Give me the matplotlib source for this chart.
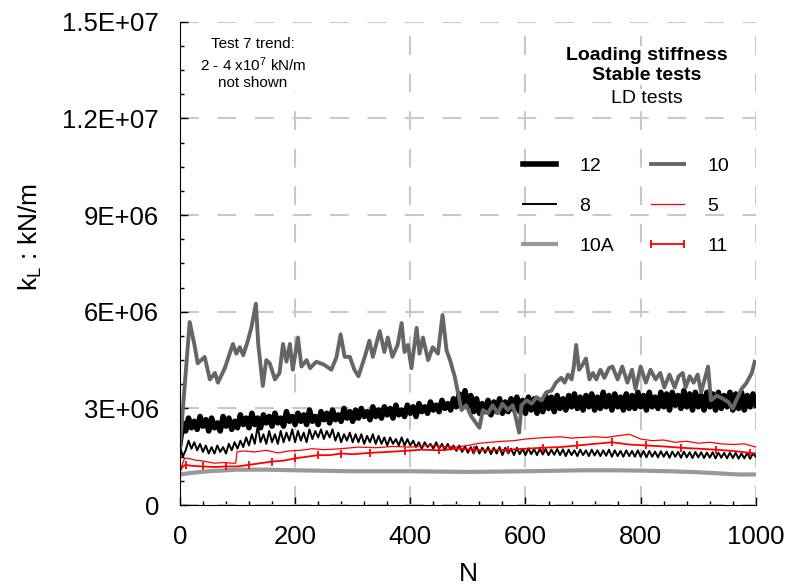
import numpy as np
import matplotlib
matplotlib.use('Agg')
import matplotlib.pyplot as plt
from matplotlib.ticker import AutoMinorLocator

plt.rcParams['font.family'] = ['Liberation Sans', 'DejaVu Sans']
plt.rcParams['mathtext.default'] = 'regular'

# ---- data (values in units of 1e6 kN/m) ----
# test 12 and test 8 read every 5 cycles
n_dense = np.arange(0, 1001, 5)

k12 = [1.9, 2.55, 2.3, 2.7, 2.4, 2.6, 2.35, 2.75, 2.45, 2.65,
       2.3, 2.7, 2.4, 2.55, 2.3, 2.75, 2.45, 2.7, 2.35, 2.6,
       2.4, 2.8, 2.5, 2.7, 2.4, 2.85, 2.5, 2.7, 2.4, 2.8,
       2.55, 2.75, 2.45, 2.85, 2.55, 2.7, 2.45, 2.9, 2.6, 2.75,
       2.5, 2.85, 2.6, 2.8, 2.5, 2.95, 2.6, 2.75, 2.5, 2.9,
       2.65, 2.85, 2.55, 2.95, 2.65, 2.8, 2.6, 3.0, 2.7, 2.9,
       2.6, 2.95, 2.7, 3.0, 2.75, 2.9, 2.65, 3.05, 2.75, 2.95,
       2.7, 3.05, 2.8, 3.0, 2.7, 3.1, 2.8, 2.95, 2.75, 3.1,
       2.85, 3.05, 2.75, 3.15, 2.9, 3.05, 2.85, 3.2, 2.95, 3.1,
       2.9, 3.25, 3.0, 3.15, 2.95, 3.3, 3.05, 3.45, 3.15, 3.55,
       3.05, 3.4, 2.9, 3.3, 2.85, 3.15, 2.9, 3.25, 2.8, 3.2,
       2.9, 3.3, 2.85, 3.2, 2.9, 3.3, 2.95, 3.35, 2.9, 3.25,
       2.85, 3.35, 2.95, 3.3, 2.85, 3.25, 2.9, 3.4, 3.0, 3.35,
       2.9, 3.4, 3.0, 3.3, 2.95, 3.4, 3.05, 3.45, 3.0, 3.35,
       2.95, 3.4, 3.05, 3.45, 2.95, 3.35, 3.0, 3.5, 3.05, 3.4,
       2.95, 3.45, 3.05, 3.35, 2.95, 3.45, 3.0, 3.4, 3.0, 3.5,
       3.05, 3.4, 2.95, 3.5, 3.05, 3.35, 3.0, 3.5, 3.05, 3.45,
       2.95, 3.5, 3.1, 3.4, 3.0, 3.55, 3.05, 3.45, 2.95, 3.5,
       3.05, 3.4, 2.95, 3.5, 3.05, 3.45, 2.95, 3.5, 3.0, 3.4,
       3.05, 3.5, 2.95, 3.45, 3.0, 3.5, 2.95, 3.4, 3.05, 3.45,
       3.1]

k8 = [1.85, 1.5, 1.7, 2.0, 1.75, 1.95, 1.7, 1.9, 1.65, 1.85,
      1.6, 1.8, 1.6, 1.85, 1.65, 1.8, 1.6, 1.9, 1.7, 1.95,
      1.75, 2.0, 1.8, 2.1, 1.85, 2.2, 1.9, 2.45, 1.95, 2.2,
      1.9, 2.3, 1.95, 2.2, 1.9, 2.3, 1.95, 2.25, 2.0, 2.35,
      1.95, 2.3, 2.0, 2.25, 1.95, 2.35, 2.05, 2.3, 2.1, 2.35,
      2.05, 2.3, 2.1, 2.35, 2.0, 2.25, 1.95, 2.2, 2.0, 2.25,
      1.95, 2.2, 1.95, 2.2, 1.9, 2.15, 1.95, 2.2, 1.9, 2.15,
      1.9, 2.1, 1.85, 2.1, 1.9, 2.05, 1.85, 2.1, 1.85, 2.05,
      1.85, 2.0, 1.8, 1.95, 1.75, 1.95, 1.8, 1.9, 1.75, 1.95,
      1.75, 1.9, 1.7, 1.9, 1.72, 1.85, 1.68, 1.85, 1.65, 1.82,
      1.62, 1.8, 1.6, 1.82, 1.6, 1.78, 1.62, 1.8, 1.58, 1.78,
      1.6, 1.8, 1.55, 1.78, 1.6, 1.75, 1.55, 1.78, 1.58, 1.75,
      1.55, 1.76, 1.58, 1.74, 1.55, 1.75, 1.57, 1.74, 1.55, 1.72,
      1.56, 1.74, 1.55, 1.73, 1.52, 1.72, 1.55, 1.7, 1.52, 1.72,
      1.55, 1.7, 1.52, 1.72, 1.54, 1.7, 1.52, 1.7, 1.53, 1.72,
      1.5, 1.7, 1.52, 1.68, 1.5, 1.7, 1.52, 1.68, 1.5, 1.7,
      1.5, 1.68, 1.48, 1.68, 1.5, 1.66, 1.48, 1.67, 1.5, 1.66,
      1.47, 1.66, 1.5, 1.65, 1.47, 1.66, 1.48, 1.64, 1.46, 1.65,
      1.48, 1.64, 1.46, 1.63, 1.47, 1.64, 1.45, 1.63, 1.47, 1.62,
      1.45, 1.63, 1.46, 1.62, 1.44, 1.6, 1.45, 1.62, 1.44, 1.6,
      1.5]

# test 10 (dark grey)
n10 = [0, 17, 25, 31, 43, 52, 61, 66, 78, 92, 98, 104, 110, 118, 124, 132,
       136, 144, 150, 156, 165, 173, 179, 185, 191, 196, 205, 211, 220, 226,
       237, 251, 263, 272, 279, 286, 295, 303, 310, 321, 329, 335, 347, 355,
       361, 369, 378, 385, 390, 396, 402, 411, 416, 422, 431, 439, 448, 456,
       463, 469, 477, 489, 497, 506, 514, 520, 526, 535, 543, 552, 560, 569,
       578, 584, 589, 593, 602, 611, 619, 628, 636, 645, 653, 662, 668, 674,
       680, 684, 688, 693, 699, 705, 711, 717, 723, 730, 737, 745, 751, 760,
       768, 777, 785, 791, 800, 809, 817, 826, 834, 841, 850, 859, 866, 873,
       878, 885, 892, 899, 905, 911, 917, 922, 932, 943, 952, 960, 966, 975,
       984, 993, 998]
k10 = [1.8, 5.68, 5.0, 4.4, 4.6, 3.9, 4.1, 3.8, 4.25, 5.0, 4.7, 4.9, 4.65,
       5.1, 5.5, 6.25, 5.0, 3.7, 4.5, 4.4, 3.9, 4.1, 5.0, 4.45, 5.0, 4.2,
       5.2, 4.3, 4.5, 4.25, 4.45, 4.35, 4.2, 4.6, 5.3, 4.6, 4.6, 4.2, 4.0,
       4.6, 5.1, 4.6, 5.4, 4.75, 5.2, 4.6, 4.97, 5.65, 4.75, 4.97, 4.25, 5.5,
       4.7, 5.2, 4.5, 4.9, 4.7, 5.9, 4.8, 4.5, 4.0, 2.95, 3.1, 2.75, 2.55,
       2.4, 2.95, 2.85, 3.1, 2.85, 3.15, 2.95, 3.1, 2.65, 2.25, 3.1, 3.25,
       3.15, 3.35, 3.25, 3.5, 3.55, 3.8, 3.95, 3.8, 4.05, 3.9, 4.3, 4.97,
       4.2, 4.35, 4.55, 3.9, 4.1, 3.9, 4.2, 3.95, 4.25, 4.3, 3.9, 4.3, 3.8,
       4.2, 3.6, 4.3, 3.8, 4.2, 3.9, 4.1, 3.65, 4.05, 3.65, 4.0, 4.1, 3.65,
       4.0, 3.8, 4.05, 3.5, 3.9, 4.3, 3.25, 3.4, 3.3, 3.2, 3.0, 3.25, 3.6,
       3.8, 4.1, 4.45]

# test 10A (light grey)
n10a = [0, 20, 50, 100, 150, 200, 300, 400, 500, 600, 700, 750, 800, 850,
        900, 950, 970, 1000]
k10a = [0.95, 1.0, 1.05, 1.1, 1.1, 1.08, 1.05, 1.05, 1.03, 1.05, 1.08, 1.08,
        1.07, 1.05, 1.02, 0.97, 0.95, 0.95]

# test 5 (red, thin)
n5 = [0, 3, 8, 15, 25, 35, 45, 60, 75, 90, 97, 99, 110, 130, 150, 170, 190,
      210, 230, 250, 280, 310, 340, 370, 400, 430, 460, 480, 500, 520, 540,
      560, 580, 600, 620, 640, 660, 680, 700, 720, 740, 760, 780, 800, 820,
      840, 860, 880, 900, 920, 940, 960, 980, 1000]
k5 = [1.0, 1.2, 1.45, 1.45, 1.4, 1.38, 1.35, 1.3, 1.32, 1.3, 1.3, 1.65, 1.68,
      1.65, 1.7, 1.62, 1.68, 1.7, 1.75, 1.72, 1.75, 1.8, 1.78, 1.82, 1.8,
      1.85, 1.82, 1.8, 1.85, 1.92, 1.95, 1.98, 2.0, 2.05, 2.08, 2.1, 2.12,
      2.08, 2.1, 2.12, 2.1, 2.15, 2.2, 2.05, 2.0, 2.02, 1.95, 1.98, 1.92,
      1.95, 1.9, 1.88, 1.9, 1.8]

# test 11 (red, with ticks)
n11 = [0, 5, 10, 20, 40, 60, 80, 100, 120, 140, 160, 180, 200, 220, 240, 260,
       280, 300, 330, 360, 390, 420, 450, 480, 510, 540, 570, 600, 630, 660,
       690, 720, 750, 780, 810, 840, 870, 900, 930, 960, 990, 1000]
k11 = [1.05, 1.2, 1.25, 1.22, 1.2, 1.18, 1.2, 1.2, 1.25, 1.3, 1.35, 1.38,
       1.45, 1.5, 1.55, 1.55, 1.6, 1.58, 1.62, 1.65, 1.68, 1.72, 1.7, 1.75,
       1.72, 1.7, 1.72, 1.75, 1.78, 1.8, 1.85, 1.9, 1.95, 1.88, 1.85, 1.82,
       1.78, 1.75, 1.72, 1.68, 1.62, 1.6]

yticks = [0, 3e6, 6e6, 9e6, 1.2e7, 1.5e7]
ylabels = ['0', '3E+06', '6E+06', '9E+06', '1.2E+07', '1.5E+07']
xticks = [0, 200, 400, 600, 800, 1000]

# ---- plot ----
fig = plt.figure(figsize=(7.89, 5.88), dpi=100)
ax = fig.add_axes([0.228, 0.141, 0.730, 0.822])

sc = 1e6
ax.plot(n_dense, np.array(k12) * sc, color='black', lw=4.0, label='12')
ax.plot(n_dense, np.array(k8) * sc, color='black', lw=1.4, label='8')
ax.plot(n10a, np.array(k10a) * sc, color='#999999', lw=3.0, label='10A')
ax.plot(n10, np.array(k10) * sc, color='#666666', lw=2.8, label='10')
ax.plot(n5, np.array(k5) * sc, color='red', lw=0.9, label='5')
ax.plot(n11, np.array(k11) * sc, color='red', lw=1.3, marker='|',
        markersize=6, markeredgewidth=1.3, markevery=2, label='11')

ax.set_xlim(0, 1000)
ax.set_ylim(0, 1.5e7)
ax.set_xticks(xticks)
ax.set_yticks(yticks)
ax.set_yticklabels(ylabels)
ax.xaxis.set_minor_locator(AutoMinorLocator(5))
ax.yaxis.set_minor_locator(AutoMinorLocator(4))
ax.tick_params(which='both', direction='in', labelsize=18.5)
ax.tick_params(which='major', length=6, width=1)
ax.tick_params(which='minor', length=3, width=1)
ax.tick_params(axis='x', pad=14)
ax.tick_params(axis='y', pad=15)

for s in ['top', 'right']:
    ax.spines[s].set_visible(False)

ax.grid(True, which='major', color='#c8c8c8', lw=1.5, linestyle=(0, (9, 9)))
ax.set_axisbelow(True)

ax.set_xlabel('N', fontsize=19)
ax.set_ylabel('k$_L$ : kN/m', fontsize=19)
ax.xaxis.set_label_coords(0.5, -0.118)
ax.yaxis.set_label_coords(-0.236, 0.555)

ax.text(0.127, 0.913, 'Test 7 trend:\n2 - 4 x10$^7$ kN/m\nnot shown',
        transform=ax.transAxes, ha='center', va='center', fontsize=11,
        linespacing=1.25,
        bbox=dict(facecolor='white', edgecolor='none', pad=1))

bb = dict(facecolor='white', edgecolor='none', pad=0.5)
ax.text(0.811, 0.930, 'Loading stiffness', transform=ax.transAxes,
        ha='center', va='center', fontsize=14, fontweight='bold', bbox=bb)
ax.text(0.811, 0.888, 'Stable tests', transform=ax.transAxes,
        ha='center', va='center', fontsize=14, fontweight='bold', bbox=bb)
ax.text(0.811, 0.841, 'LD tests', transform=ax.transAxes,
        ha='center', va='center', fontsize=14, bbox=bb)

ax.legend(ncol=2, loc='center', bbox_to_anchor=(0.770, 0.619),
          frameon=False, fontsize=14, handlelength=2.3,
          handletextpad=0.9, columnspacing=1.6, labelspacing=1.15,
          numpoints=2)

fig.savefig('out.png', dpi=100)
